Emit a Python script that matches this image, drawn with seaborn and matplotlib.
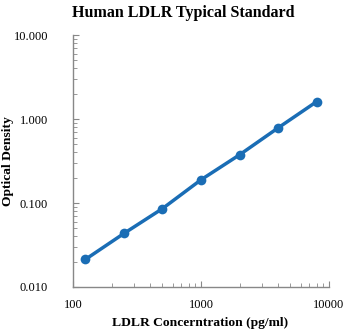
import matplotlib
matplotlib.use("Agg")
import matplotlib.pyplot as plt
import matplotlib.ticker as mticker
import seaborn as sns
import pandas as pd

concentration = [125, 250, 500, 1000, 2000, 4000, 8000]
optical_density = [0.0213, 0.0434, 0.0858, 0.189, 0.375, 0.784, 1.61]
x_ticks = [100, 1000, 10000]
x_tick_labels = ["100", "1000", "10000"]
y_ticks = [0.01, 0.1, 1, 10]
y_tick_labels = ["0.010", "0.100", "1.000", "10.000"]

df = pd.DataFrame({"conc": concentration, "od": optical_density})

sns.set_theme(style="white")
plt.rcParams["font.family"] = ["Liberation Serif", "DejaVu Serif"]
plt.rcParams["text.color"] = "black"
plt.rcParams["axes.labelcolor"] = "black"

fig = plt.figure(figsize=(3.45, 3.31), dpi=100)
ax = fig.add_axes([0.2116, 0.133, 0.742, 0.761])

color = "#1a6db5"
sns.lineplot(data=df, x="conc", y="od", ax=ax, color=color, linewidth=2.5,
             marker="o", markersize=7, markeredgewidth=0, markeredgecolor=color)

ax.set_xscale("log")
ax.set_yscale("log")
ax.set_xlim(100, 10000)
ax.set_ylim(0.01, 10)
ax.set_xticks(x_ticks)
ax.set_xticklabels(x_tick_labels)
ax.set_yticks(y_ticks)
ax.set_yticklabels(y_tick_labels)
ax.xaxis.set_minor_locator(mticker.LogLocator(base=10, subs=range(2, 10)))
ax.yaxis.set_minor_locator(mticker.LogLocator(base=10, subs=range(2, 10)))
ax.xaxis.set_minor_formatter(mticker.NullFormatter())
ax.yaxis.set_minor_formatter(mticker.NullFormatter())

ax.tick_params(which="both", direction="in", colors="#888888", labelcolor="black",
               labelsize=9, left=True, bottom=True)
ax.tick_params(which="major", length=4, width=0.8)
ax.tick_params(which="minor", length=3, width=0.6)
ax.tick_params(axis="y", pad=18)
ax.tick_params(axis="x", pad=9)

for s in ["top", "right"]:
    ax.spines[s].set_visible(False)
for s in ["left", "bottom"]:
    ax.spines[s].set_color("#888888")
    ax.spines[s].set_linewidth(1.0)

ax.set_xlabel("LDLR Concerntration (pg/ml)", fontsize=9.7, fontweight="bold", color="black")
ax.set_ylabel("Optical Density", fontsize=9.7, fontweight="bold", color="black")
ax.yaxis.set_label_coords(-0.232, 0.5)
ax.xaxis.set_label_coords(0.495, -0.12)
fig.suptitle("Human LDLR Typical Standard", fontsize=11.5, fontweight="bold",
             x=0.530, y=0.985, color="black")

fig.savefig("out.png", dpi=100)
